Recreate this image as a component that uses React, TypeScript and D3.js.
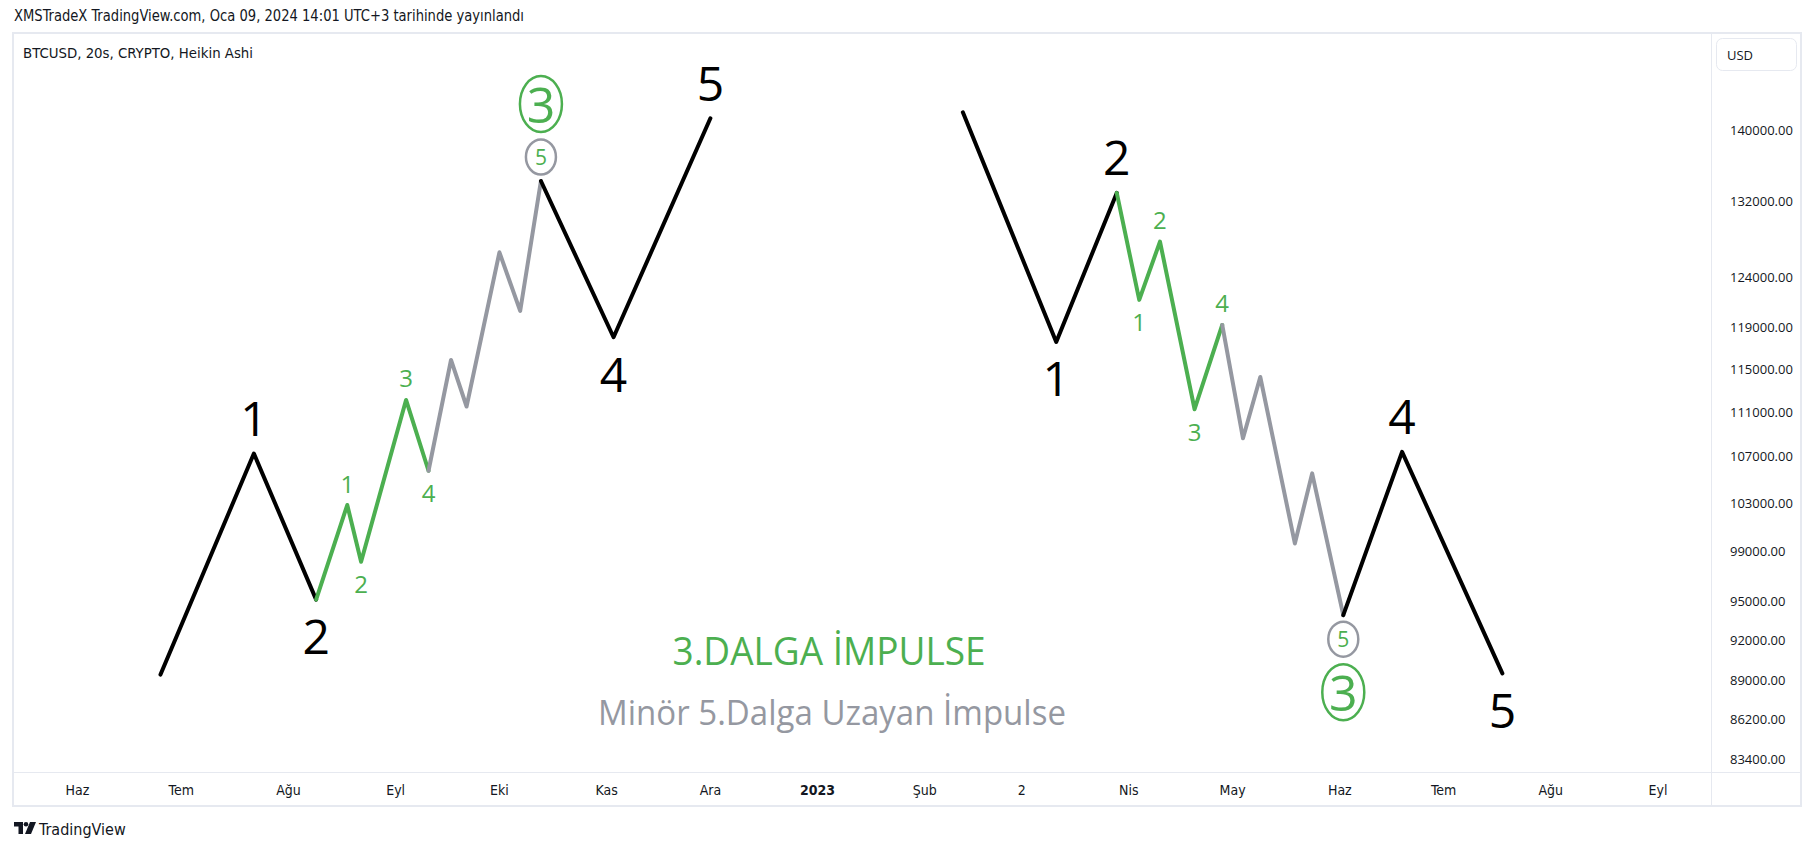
import React from "react";
import * as d3 from "d3";

const HEADER = "XMSTradeX TradingView.com, Oca 09, 2024 14:01 UTC+3 tarihinde yayınlandı";
const SYMBOL = "BTCUSD, 20s, CRYPTO, Heikin Ashi";
const CURRENCY = "USD";
const TITLE_MAIN = "3.DALGA İMPULSE";
const TITLE_SUB = "Minör 5.Dalga Uzayan İmpulse";

const PRICE_TICKS = [140000, 132000, 124000, 119000, 115000, 111000, 107000, 103000, 99000, 95000, 92000, 89000, 86200, 83400];
const MONTH_DATES = ["2022-06-01", "2022-07-01", "2022-08-01", "2022-09-01", "2022-10-01", "2022-11-01", "2022-12-01", "2023-01-01", "2023-02-01", "2023-03-01", "2023-04-01", "2023-05-01", "2023-06-01", "2023-07-01", "2023-08-01", "2023-09-01"];
const MONTH_LABELS = ["Haz", "Tem", "Ağu", "Eyl", "Eki", "Kas", "Ara", "2023", "Şub", "2", "Nis", "May", "Haz", "Tem", "Ağu", "Eyl"];

// Left (bullish) impulse
const LEFT_DATES = ["2022-06-25", "2022-07-22", "2022-08-09", "2022-08-18", "2022-08-22", "2022-09-04", "2022-09-10T12:00Z", "2022-09-17", "2022-09-21T12:00Z", "2022-10-01", "2022-10-07", "2022-10-13", "2022-11-03", "2022-12-01"];
const LEFT_PRICES = [89400, 107240, 95090, 102790, 98100, 112070, 105730, 115820, 111470, 126550, 120590, 134200, 118010, 141310];
// Right (bearish) impulse
const RIGHT_DATES = ["2023-02-12", "2023-03-11", "2023-03-28T12:00Z", "2023-04-04", "2023-04-10", "2023-04-20", "2023-04-28", "2023-05-04", "2023-05-09", "2023-05-19", "2023-05-24", "2023-06-02", "2023-06-19", "2023-07-18"];
const RIGHT_PRICES = [142010, 117550, 132890, 121690, 127670, 111220, 119210, 108590, 114210, 99590, 105500, 93880, 107390, 89490];

// segments: [from index, to index, kind]
const SEGMENTS: [number, number, string][] = [
  [0, 2, "major"],
  [2, 6, "minor"],
  [6, 11, "minute"],
  [11, 13, "major"],
];

// labels: [point index, text, kind, side]
const LEFT_LABELS: [number, string, string, number][] = [
  [1, "1", "major", -1], [2, "2", "major", 1],
  [3, "1", "minor", -1], [4, "2", "minor", 1], [5, "3", "minor", -1], [6, "4", "minor", 1],
  [12, "4", "major", 1], [13, "5", "major", -1],
];
const RIGHT_LABELS: [number, string, string, number][] = [
  [1, "1", "major", 1], [2, "2", "major", -1],
  [3, "1", "minor", 1], [4, "2", "minor", -1], [5, "3", "minor", 1], [6, "4", "minor", -1],
  [12, "4", "major", -1], [13, "5", "major", 1],
];
const LEFT_CIRCLED = { index: 11, side: -1 };
const RIGHT_CIRCLED = { index: 11, side: 1 };

const GREEN = "#4caf50";
const GRAY = "#9598a1";
const BLACK = "#000000";
const TEXT = "#131722";
const BORDER = "#e6e9f0";

const W = 1815;
const H = 851;

const x = d3.scaleUtc()
  .domain([d3.isoParse("2022-06-01")!, d3.isoParse("2023-09-01")!])
  .range([77.5, 1658]);
const y = d3.scaleLog().domain([83400, 140000]).range([759, 129.6]);

const line = d3.line<[Date, number]>().x((d) => x(d[0])).y((d) => y(d[1]));

function Wave({ dates, prices, labels, circled }: any) {
  const pts: [Date, number][] = dates.map((d: string, i: number) => [d3.isoParse(d)!, prices[i]]);
  const colorOf = (k: string) => (k === "major" ? BLACK : k === "minor" ? GREEN : GRAY);
  const cp = pts[circled.index];
  const cx = x(cp[0]);
  const cy = y(cp[1]);
  return (
    <g>
      {SEGMENTS.map(([a, b, k], i) => (
        <path key={i} d={line(pts.slice(a, b + 1)) || ""} fill="none" stroke={colorOf(k)} strokeWidth={4} strokeLinejoin="round" strokeLinecap="round" />
      ))}
      {labels.map(([idx, t, k, side]: any, i: number) => {
        const p = pts[idx];
        const off = k === "major" ? 36 : 22;
        return (
          <text key={i} x={x(p[0])} y={y(p[1]) + side * off} textAnchor="middle" dominantBaseline="central"
            fontFamily="'Open Sans', sans-serif" fontSize={k === "major" ? 48 : 24} fill={k === "major" ? BLACK : GREEN}>{t}</text>
        );
      })}
      <g>
        <ellipse cx={cx} cy={cy + circled.side * 24} rx={15} ry={17.5} fill="none" stroke={GRAY} strokeWidth={2.5} />
        <text x={cx} y={cy + circled.side * 24} textAnchor="middle" dominantBaseline="central" fontFamily="'Open Sans', sans-serif" fontSize={21} fill={GREEN}>5</text>
        <ellipse cx={cx} cy={cy + circled.side * 77} rx={21} ry={28} fill="none" stroke={GREEN} strokeWidth={2.5} />
        <text x={cx} y={cy + circled.side * 77} textAnchor="middle" dominantBaseline="central" fontFamily="'Open Sans', sans-serif" fontSize={50} fontWeight={500} fill={GREEN}>3</text>
      </g>
    </g>
  );
}

export default function App() {
  return (
    <svg width={W} height={H} style={{ position: "absolute", left: 0, top: 0, background: "#fff" }}>
      <rect x={0} y={0} width={W} height={H} fill="#ffffff" />
      <text x={14} y={21} fontFamily="'Liberation Sans Narrow', 'DejaVu Sans Condensed', sans-serif" fontSize={15} fill={TEXT} textLength={510} lengthAdjust="spacingAndGlyphs">{HEADER}</text>
      {/* frame */}
      <rect x={13} y={33} width={1788} height={773} fill="#fff" stroke={BORDER} strokeWidth={2} />
      <line x1={1711.5} x2={1711.5} y1={34} y2={805} stroke={BORDER} strokeWidth={1} />
      <line x1={14} x2={1800} y1={772.5} y2={772.5} stroke={BORDER} strokeWidth={1} />
      <text x={23} y={58} fontFamily="'Liberation Sans Narrow', 'DejaVu Sans Condensed', sans-serif" fontSize={14} fill={TEXT} textLength={230} lengthAdjust="spacingAndGlyphs">{SYMBOL}</text>
      {/* USD box */}
      <rect x={1716.5} y={38.5} width={80} height={32} rx={6} fill="#fff" stroke={BORDER} strokeWidth={1} />
      <text x={1727} y={54.5} dominantBaseline="central" fontFamily="'Open Sans', sans-serif" fontSize={13} fill={TEXT}>{CURRENCY}</text>
      {/* price axis */}
      {PRICE_TICKS.map((v) => (
        <text key={v} x={1730} y={y(v)} dominantBaseline="central" fontFamily="'Open Sans', sans-serif" fontSize={13} fill={TEXT}>{d3.format(".2f")(v)}</text>
      ))}
      {/* time axis */}
      {MONTH_DATES.map((d, i) => (
        <text key={d} x={x(d3.isoParse(d)!)} y={790} textAnchor="middle" dominantBaseline="central"
          fontFamily="'Liberation Sans Narrow', 'DejaVu Sans Condensed', sans-serif" fontSize={14}
          fontWeight={MONTH_LABELS[i] === "2023" ? 700 : 400} fill={TEXT}>{MONTH_LABELS[i]}</text>
      ))}
      <Wave dates={LEFT_DATES} prices={LEFT_PRICES} labels={LEFT_LABELS} circled={LEFT_CIRCLED} />
      <Wave dates={RIGHT_DATES} prices={RIGHT_PRICES} labels={RIGHT_LABELS} circled={RIGHT_CIRCLED} />
      <text x={829} y={650} textAnchor="middle" dominantBaseline="central" fontFamily="'Open Sans', sans-serif" fontSize={38} fontWeight={500} fill={GREEN} textLength={313} lengthAdjust="spacingAndGlyphs">{TITLE_MAIN}</text>
      <text x={832} y={712} textAnchor="middle" dominantBaseline="central" fontFamily="'Open Sans', sans-serif" fontSize={34} fill={GRAY} textLength={468} lengthAdjust="spacingAndGlyphs">{TITLE_SUB}</text>
      {/* TradingView logo */}
      <g transform="translate(14,822)" fill={TEXT}>
        <path d="M0 0h9v12h-4.5v-7.5H0z" />
        <circle cx={12} cy={2.3} r={2.3} />
        <path d="M16 0h6l-5 12h-6z" />
      </g>
      <text x={39} y={829} dominantBaseline="central" fontFamily="'Liberation Sans Narrow', 'DejaVu Sans Condensed', sans-serif" fontSize={16} fontWeight={500} fill={TEXT}>TradingView</text>
    </svg>
  );
}
